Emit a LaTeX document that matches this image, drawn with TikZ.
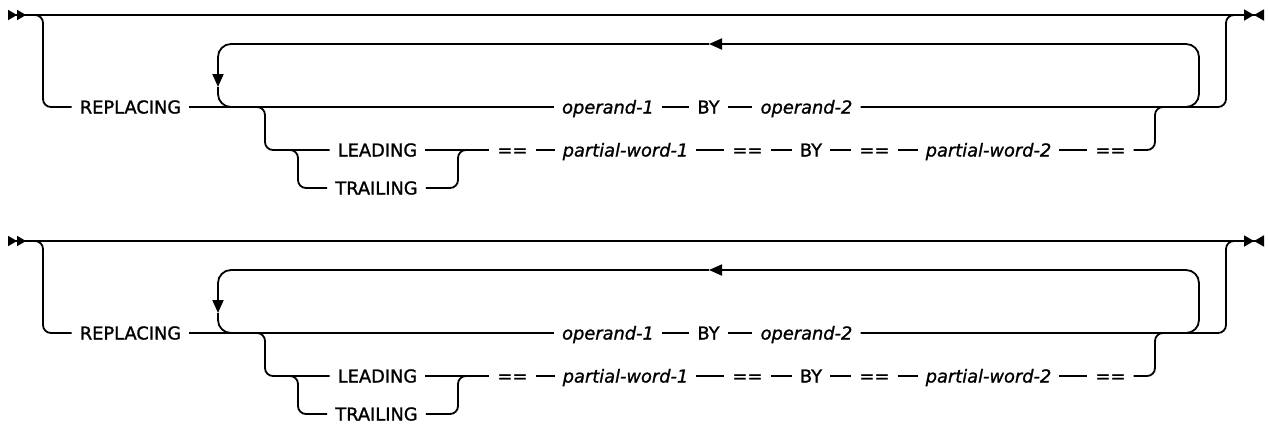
\documentclass[tikz,border=0pt]{standalone}
\usepackage{fontspec}
\setmainfont{DejaVu Sans}[FakeBold=1.2]
\usepackage{tikz}
\usetikzlibrary{arrows.meta,positioning}

\begin{document}
\begin{tikzpicture}[
  x=1pt, y=-1pt,
  rail/.style={line width=1.8pt},
  turn/.style={rail, rounded corners=8pt},
  loopbk/.style={rail, rounded corners=13pt},
  tok/.style={inner xsep=8pt, inner ysep=0pt, text height=13pt, text depth=0pt,
              font=\fontsize{17.8}{20}\selectfont},
  kw/.style={tok},
  vr/.style={tok, font=\fontsize{17.8}{20}\selectfont\itshape},
  back/.style={-{Triangle[length=13pt,width=11pt]}},
  ends/.style={rail,
    {Triangle[length=9pt,width=10pt,reversed]Triangle[length=9pt,width=10pt,reversed]}-%
    {Triangle[length=10pt,width=11pt]Triangle[length=10pt,width=11pt,reversed]}},
]
\useasboundingbox (0,0) rectangle (1269,424);
\foreach \d/\yo in {a/0, b/226} {
\begin{scope}[shift={(0,\yo)}]
% tokens
\node[kw] (rep\d)   at (130.5,107) {REPLACING};
\node[vr] (op1\d)   at (608,107)   {operand-1};
\node[kw] (by1\d)   at (708.5,107) {BY};
\node[vr] (op2\d)   at (806.5,107) {operand-2};
\node[kw] (lead\d)  at (377.5,150) {LEADING};
\node[kw] (trail\d) at (376.5,188) {TRAILING};
\node[kw] (eqa\d)   at (512.5,150) {==};
\node[vr] (pw1\d)   at (625.5,150) {partial-word-1};
\node[kw] (eqb\d)   at (747.5,150) {==};
\node[kw] (by2\d)   at (811,150)   {BY};
\node[kw] (eqc\d)   at (874.5,150) {==};
\node[vr] (pw2\d)   at (988.5,150) {partial-word-2};
\node[kw] (eqd\d)   at (1110.5,150) {==};
% junctions
\coordinate (in\d)  at (8,15);
\coordinate (out\d) at (1264,15);
\coordinate (ld\d)  at (43,15);
\coordinate (rr\d)  at (1226,15);
\coordinate (lps\d) at (1180,107);
\coordinate (lpr\d) at (1199,44);
\coordinate (lpa\d) at (709,44);
\coordinate (lpd\d) at (218,87);
\coordinate (lpe\d) at (236,107);
\coordinate (bd\d)  at (265,107);
\coordinate (bc\d)  at (298,150);
\coordinate (bm\d)  at (458,150);
\coordinate (bu\d)  at (1155,107);
% rails
\draw[ends] (in\d) -- (out\d);
\draw[turn] (ld\d) ++(-10,0) -- (ld\d) |- (rep\d);
\draw[rail] (rep\d) -- (op1\d) -- (by1\d) -- (op2\d);
\draw[turn] (op2\d) -| (rr\d) -- ++(11,0);
\draw[loopbk, back] (lps\d) -| (lpr\d) -- (lpa\d);
\draw[loopbk, back] (lpa\d) -| (lpd\d);
\draw[loopbk] (lpd\d) |- (lpe\d);
\draw[turn] (bd\d) ++(-10,0) -- (bd\d) |- (lead\d);
\draw[turn] (bc\d) ++(-10,0) -- (bc\d) |- (trail\d);
\draw[rail] (lead\d) -- (eqa\d) -- (pw1\d) -- (eqb\d) -- (by2\d) -- (eqc\d) -- (pw2\d) -- (eqd\d);
\draw[turn] (trail\d) -| (bm\d) -- ++(12,0);
\draw[turn] (eqd\d) -| (bu\d) -- ++(10,0);
\end{scope}
}
\end{tikzpicture}
\end{document}
